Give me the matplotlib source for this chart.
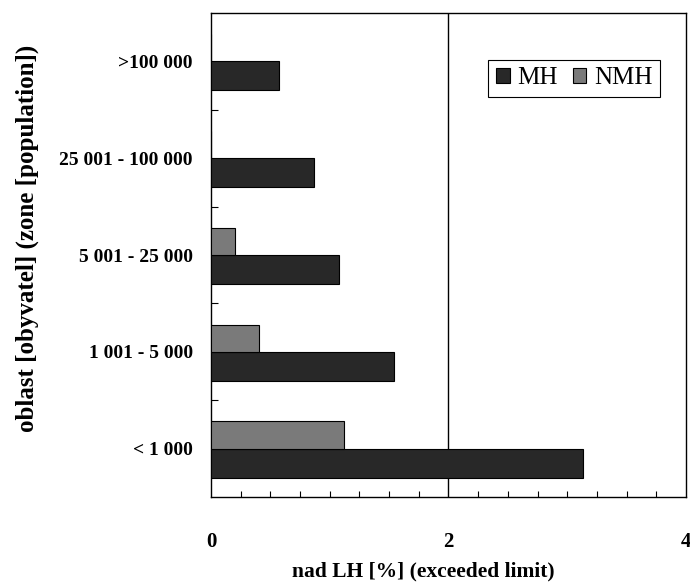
import matplotlib

matplotlib.use("Agg")

import matplotlib.pyplot as plt
import numpy as np
from matplotlib.ticker import MultipleLocator, FixedLocator

# kategorie zon podle poctu obyvatel (zdola nahoru)
categories = ["< 1 000", "1 001 - 5 000", "5 001 - 25 000",
              "25 001 - 100 000", ">100 000"]
mh_values = [3.13, 1.54, 1.08, 0.87, 0.57]
nmh_values = [1.12, 0.40, 0.20, 0.0, 0.0]
x_ticks = [0, 2, 4]
limit_line = 2

plt.rcParams["font.family"] = ["Liberation Serif", "DejaVu Serif"]

fig = plt.figure(figsize=(6.9, 5.87), dpi=100)
ax = fig.add_axes([211 / 690, 90 / 587, 475 / 690, 484 / 587])

pos = np.arange(len(categories))
bar_h = 0.30

ax.barh(pos - bar_h, mh_values, height=bar_h, align="edge",
        color="#282828", edgecolor="black", linewidth=0.8, label="MH",
        zorder=3)
ax.barh(pos, nmh_values, height=0.28, align="edge",
        color="#7a7a7a", edgecolor="black", linewidth=0.8, label="NMH",
        zorder=3)

ax.axvline(limit_line, color="black", linewidth=1.0, zorder=1)

ax.set_xlim(0, 4)
ax.set_ylim(-0.5, len(categories) - 0.5)

ax.set_xticks(x_ticks)
ax.set_xticklabels([str(v) for v in x_ticks], fontsize=15, fontweight="bold")
ax.xaxis.set_minor_locator(MultipleLocator(0.25))
ax.tick_params(axis="x", which="major", direction="in", length=0, pad=25)
ax.tick_params(axis="x", which="minor", direction="in", length=4, width=0.8)

ax.set_yticks(pos)
ax.set_yticklabels(categories, fontsize=14, fontweight="bold")
ax.yaxis.set_minor_locator(FixedLocator(pos[:-1] + 0.5))
ax.tick_params(axis="y", which="major", length=0, pad=13)
ax.tick_params(axis="y", which="minor", direction="in", length=5, width=0.8)

for sp in ax.spines.values():
    sp.set_linewidth(1.0)

ax.set_xlabel("nad LH [%] (exceeded limit)", fontsize=15.5, fontweight="bold")
ax.xaxis.set_label_coords(0.446, -0.134)
ax.set_ylabel("oblast [obyvatel] (zone [population])", fontsize=18,
              fontweight="bold")
ax.yaxis.set_label_coords(-0.362, 0.535)

leg = ax.legend(loc="upper right", bbox_to_anchor=(0.945, 0.903), ncol=2,
                fontsize=18, fancybox=False, framealpha=1, edgecolor="black",
                borderaxespad=0, handlelength=0.55, handleheight=0.5,
                handletextpad=0.3, columnspacing=0.6, borderpad=0.3)
leg.get_frame().set_linewidth(0.8)

fig.savefig("out.png", dpi=100)
plt.close(fig)
